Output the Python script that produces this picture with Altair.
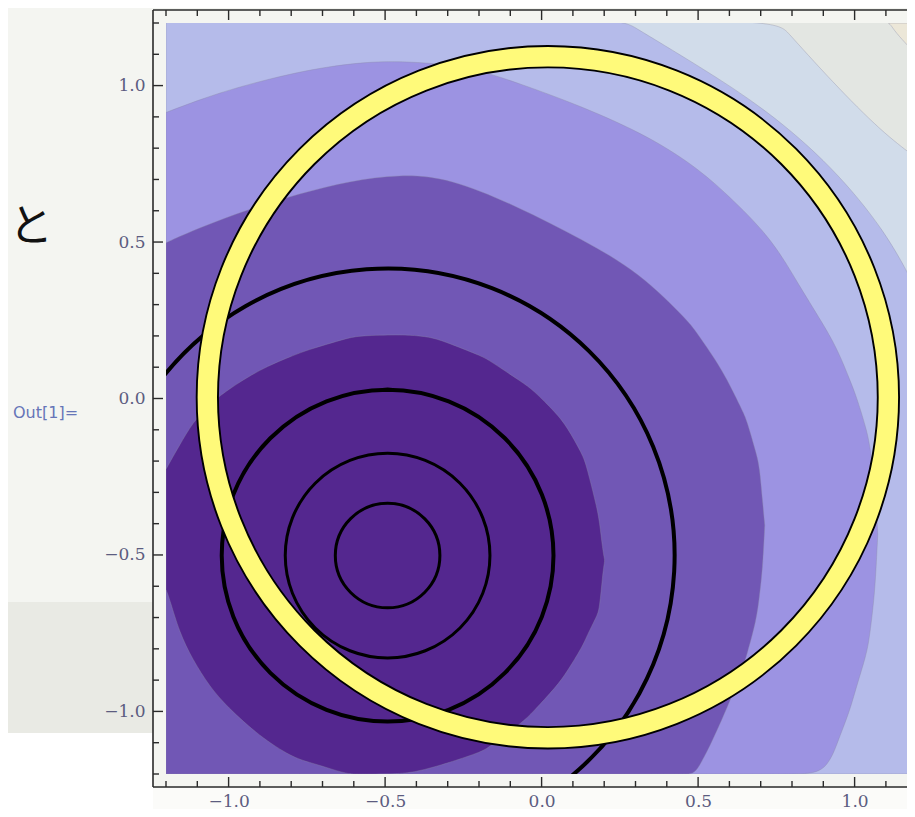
import altair as alt
import pandas as pd

# ---------------- axis ticks / ranges ----------------
major_ticks = [-1.0, -0.5, 0.0, 0.5, 1.0]
minor_ticks = [-1.2, -1.1, -0.9, -0.8, -0.7, -0.6, -0.4, -0.3, -0.2, -0.1,
               0.1, 0.2, 0.3, 0.4, 0.6, 0.7, 0.8, 0.9, 1.1, 1.2]
x_domain = [-1.2, 1.1674]
y_domain = [-1.2, 1.2]
plot_x = [-1.2, 1.2]
plot_y = [-1.2, 1.2]
plot_floor = -1.2

# ---------------- filled contour boundaries ----------------
a3_x = [-1.2, 1.09, 1.112, 1.192, 1.2]
a3_top = [1.25, 1.25, 1.188, 1.105, 1.097]

a2_x = [-1.2, 0.75, 0.77, 0.93, 1.089, 1.192, 1.2]
a2_top = [1.25, 1.21, 1.188, 1.01, 0.85, 0.773, 0.765]

a1_x = [-1.2, 0.26, 0.272, 0.505, 0.719, 0.93, 1.102, 1.192, 1.2]
a1_top = [1.25, 1.21, 1.201, 1.061, 0.923, 0.741, 0.53, 0.358, 0.34]

b_x = [-1.2, -1.093, -0.965, -0.751, -0.559, -0.431, -0.294, -0.188, -0.08, 0.131,
       0.345, 0.505, 0.61, 0.738, 0.824, 0.911, 0.952, 0.984, 1.006, 1.038,
       1.048, 1.064, 1.07, 1.074]
b_top = [0.914, 0.955, 0.997, 1.051, 1.077, 1.077, 1.067, 1.045, 1.01, 0.933,
         0.837, 0.732, 0.636, 0.508, 0.358, 0.22, 0.141, 0.061, 0.006, -0.099,
         -0.147, -0.259, -0.355, -0.435]
b_bot = [-1.2, -1.2, -1.2, -1.2, -1.2, -1.2, -1.2, -1.2, -1.2, -1.2,
         -1.2, -1.2, -1.2, -1.2, -1.2, -1.195, -1.08, -1.0, -0.92, -0.818,
         -0.76, -0.626, -0.514, -0.435]

c_x = [-1.2, -1.093, -0.933, -0.773, -0.613, -0.454, -0.294, -0.08, 0.131, 0.313,
       0.473, 0.495, 0.578, 0.642, 0.655, 0.687, 0.696, 0.706, 0.713]
c_top = [0.498, 0.546, 0.606, 0.655, 0.695, 0.717, 0.705, 0.615, 0.508, 0.403,
         0.243, 0.211, 0.093, -0.04, -0.067, -0.18, -0.217, -0.33, -0.405]
c_bot = [-1.2, -1.2, -1.2, -1.2, -1.2, -1.2, -1.2, -1.2, -1.2, -1.2,
         -1.2, -1.2, -1.026, -0.866, -0.821, -0.706, -0.63, -0.546, -0.405]

d_x = [-1.2, -1.188, -1.157, -1.115, -1.061, -1.006, -0.901, -0.796, -0.741, -0.687,
       -0.623, -0.581, -0.454, -0.399, -0.348, -0.294, -0.188, -0.166, -0.061, -0.029,
       0.048, 0.08, 0.131, 0.144, 0.176, 0.185, 0.195, 0.201]
d_top = [-0.227, -0.204, -0.15, -0.077, -0.018, 0.026, 0.093, 0.137, 0.157, 0.173,
         0.192, 0.201, 0.204, 0.201, 0.195, 0.176, 0.134, 0.121, 0.051, 0.029,
         -0.048, -0.089, -0.179, -0.217, -0.345, -0.393, -0.482, -0.514]
d_bot = [-0.61, -0.642, -0.748, -0.834, -0.92, -0.984, -1.08, -1.147, -1.163, -1.179,
         -1.2, -1.2, -1.2, -1.192, -1.179, -1.163, -1.128, -1.112, -1.035, -1.003,
         -0.92, -0.875, -0.792, -0.76, -0.696, -0.674, -0.562, -0.521]

# ---------------- contour lines (circle arcs) and the yellow ring ----------------
circle_cx = [-0.492, -0.492, -0.492, -0.492]
circle_cy = [-0.502, -0.502, -0.502, -0.502]
circle_r = [0.167, 0.327, 0.53, 0.917]
circle_start = [0.0, 0.0, 0.0, 5.36]      # radians, clockwise from 12 o'clock
circle_end = [6.2832, 6.2832, 6.2832, 8.76]

ring_cx = [0.02]
ring_cy = [0.004]
ring_outer = [1.122]
ring_inner = [1.054]

# ---------------- texts ----------------
out_label = ["Out[1]="]
hand_text = ["と"]

# ---------------- styles ----------------
W, H = 741, 751
band_colors = ["#ece7d8", "#e3e6e2", "#d1dcea", "#b5bbea", "#9c93e2", "#7157b5", "#54278f"]
label_color = "#5c5c80"
frame_color = "#2a2a2a"

xs = alt.Scale(domain=x_domain, nice=False, zero=False)
ys = alt.Scale(domain=y_domain, nice=False, zero=False)
rs = alt.Scale(type="linear", domain=[0, 1], range=[0, 313], zero=True)

x_axis = alt.Axis(values=major_ticks, format=".1f", ticks=False, tickSize=0,
                  domain=False, grid=False, labelPadding=19, title=None,
                  labelFont="DejaVu Serif", labelFontSize=17,
                  labelColor=label_color, zindex=1)
y_axis = alt.Axis(values=major_ticks, format=".1f", ticks=False, tickSize=0,
                  domain=False, grid=False, labelPadding=21, title=None,
                  labelFont="DejaVu Serif", labelFontSize=17,
                  labelColor=label_color, zindex=1)

one = pd.DataFrame({"k": [0]})

# background decorations of the slide (outside the plot)
bg_band = alt.Chart(one).mark_rect(color="#e9eae4").encode(
    x=alt.value(-170), x2=alt.value(-13), y=alt.value(579), y2=alt.value(710))
bg_white = alt.Chart(one).mark_rect(color="#ffffff").encode(
    x=alt.value(-170), x2=alt.value(-13), y=alt.value(710), y2=alt.value(800))
bg_bottom = alt.Chart(one).mark_rect(color="#fbfbf9").encode(
    x=alt.value(-13), x2=alt.value(W + 20), y=alt.value(H + 14), y2=alt.value(800))

# plot region base colour + axis labels
base_df = pd.DataFrame({"x0": [plot_x[0]], "x1": [plot_x[1]], "y0": [plot_y[0]], "y1": [plot_y[1]]})
base = alt.Chart(base_df).mark_rect(color=band_colors[0], stroke="#9a9aa8",
                                    strokeWidth=0.8, strokeOpacity=0.6, clip=True).encode(
    x=alt.X("x0:Q", scale=xs, axis=x_axis),
    x2="x1:Q",
    y=alt.Y("y0:Q", scale=ys, axis=y_axis),
    y2="y1:Q",
)


def band_layer(xv, top, color, bot=None):
    if bot is None:
        df = pd.DataFrame({"x": xv, "top": top})
        y2 = alt.datum(plot_floor)
    else:
        df = pd.DataFrame({"x": xv, "top": top, "bot": bot})
        y2 = alt.Y2("bot:Q")
    return alt.Chart(df).mark_area(
        color=color, interpolate="basis", clip=True,
        stroke="#8a8aa6", strokeWidth=0.8, strokeOpacity=0.45,
    ).encode(
        x=alt.X("x:Q", scale=xs, axis=x_axis),
        y=alt.Y("top:Q", scale=ys, axis=y_axis),
        y2=y2,
    )


bands = [
    band_layer(a3_x, a3_top, band_colors[1]),
    band_layer(a2_x, a2_top, band_colors[2]),
    band_layer(a1_x, a1_top, band_colors[3]),
    band_layer(b_x, b_top, band_colors[4], b_bot),
    band_layer(c_x, c_top, band_colors[5], c_bot),
    band_layer(d_x, d_top, band_colors[6], d_bot),
]

circ_df = pd.DataFrame({"cx": circle_cx, "cy": circle_cy, "r": circle_r,
                        "t0": circle_start, "t1": circle_end})
circ_base = alt.Chart(circ_df).encode(
    x=alt.X("cx:Q", scale=xs, axis=x_axis),
    y=alt.Y("cy:Q", scale=ys, axis=y_axis),
    radius=alt.Radius("r:Q", scale=rs, stack=None),
    radius2="r:Q",
    theta=alt.Theta("t0:Q", scale=None, stack=None),
    theta2="t1:Q",
)
circles_thin = circ_base.mark_arc(filled=False, color="black", strokeWidth=3,
                                  clip=True).transform_filter("datum.r < 0.4")
circles_thick = circ_base.mark_arc(filled=False, color="black", strokeWidth=4,
                                   clip=True).transform_filter("datum.r >= 0.4")

ring_df = pd.DataFrame({"cx": ring_cx, "cy": ring_cy, "ro": ring_outer, "ri": ring_inner})
ring = alt.Chart(ring_df).mark_arc(color="#fffa7a", stroke="black", strokeWidth=1.9,
                                   theta=0, theta2=6.2832, clip=True).encode(
    x=alt.X("cx:Q", scale=xs, axis=x_axis),
    y=alt.Y("cy:Q", scale=ys, axis=y_axis),
    radius=alt.Radius("ro:Q", scale=rs, stack=None),
    radius2="ri:Q",
)

# frame (Mathematica style) and inward ticks
frame_left = alt.Chart(one).mark_rule(color=frame_color, strokeWidth=1.6).encode(
    x=alt.value(-13), y=alt.value(-13), y2=alt.value(H + 13))
frame_top = alt.Chart(one).mark_rule(color=frame_color, strokeWidth=1.6).encode(
    y=alt.value(-13), x=alt.value(-13), x2=alt.value(W + 20))
frame_bottom = alt.Chart(one).mark_rule(color=frame_color, strokeWidth=1.6).encode(
    y=alt.value(H + 13), x=alt.value(-13), x2=alt.value(W + 20))

maj_df = pd.DataFrame({"t": major_ticks})
min_df = pd.DataFrame({"t": minor_ticks})


def xticks(df, y0, y1):
    return alt.Chart(df).mark_rule(color=frame_color, strokeWidth=1.4).encode(
        x=alt.X("t:Q", scale=xs, axis=x_axis), y=alt.value(y0), y2=alt.value(y1))


def yticks(df, x0, x1):
    return alt.Chart(df).mark_rule(color=frame_color, strokeWidth=1.4).encode(
        y=alt.Y("t:Q", scale=ys, axis=y_axis), x=alt.value(x0), x2=alt.value(x1))


ticks = [
    xticks(maj_df, H + 13, H + 3), xticks(min_df, H + 13, H + 7),
    xticks(maj_df, -13, -3), xticks(min_df, -13, -7),
    yticks(maj_df, -13, -3), yticks(min_df, -13, -7),
]

out_txt = alt.Chart(pd.DataFrame({"s": out_label})).mark_text(
    align="left", baseline="middle", font="DejaVu Sans", fontSize=16,
    color="#6675b8").encode(x=alt.value(-153), y=alt.value(390), text="s:N")

hand_txt = alt.Chart(pd.DataFrame({"s": hand_text})).mark_text(
    align="left", baseline="middle", font="Noto Sans CJK JP", fontSize=44,
    color="#111111").encode(x=alt.value(-157), y=alt.value(205), text="s:N")

chart = alt.layer(
    bg_band, bg_white, bg_bottom, base, *bands, circles_thin, circles_thick, ring,
    frame_left, frame_top, frame_bottom, *ticks, out_txt, hand_txt,
).properties(
    width=W, height=H,
    autosize=alt.AutoSizeParams(type="none"),
    padding={"left": 158, "top": 15, "right": 0, "bottom": 35},
    background="#f4f5f1",
).configure_view(stroke=None)

chart.save("out.html", embed_options={"renderer": "svg", "actions": False})
